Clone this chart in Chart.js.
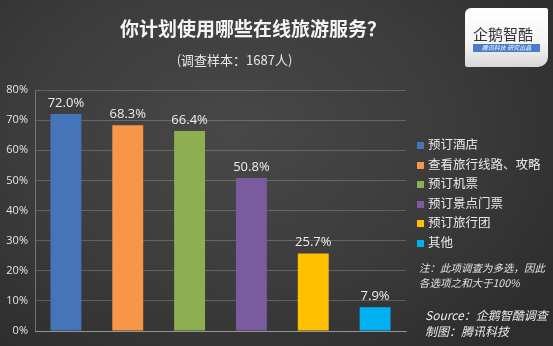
<!DOCTYPE html>
<html>
<head>
<meta charset="utf-8">
<title>在线旅游服务</title>
<script src="https://cdn.jsdelivr.net/npm/chart.js@4.4.0/dist/chart.umd.min.js"></script>
<style>
  html, body { margin: 0; padding: 0; }
  body {
    width: 553px; height: 346px; overflow: hidden; position: relative;
    background: radial-gradient(ellipse 70% 80% at 42% 38%, #484848 0%, #3c3c3c 55%, #2d2d2d 100%);
    font-family: "Noto Sans CJK SC", "Noto Sans", sans-serif;
    color: #fff;
  }
  #chart { position: absolute; left: 0; top: 0; }
  .title {
    position: absolute; left: 120px; top: 14px; width: 266px; text-align: center;
    font-size: 19px; font-weight: bold; color: #f4f4f4; white-space: nowrap;
  }
  .subtitle {
    position: absolute; left: 173px; top: 50px; width: 123px; text-align: center;
    font-size: 13px; color: #e6e6e6; white-space: nowrap;
  }
  .logo {
    position: absolute; left: 465px; top: 8px; width: 83px; height: 59px;
    background: linear-gradient(#ffffff 0%, #f4f4f4 60%, #d8d8d8 100%);
    border-radius: 6px 2px 10px 2px;
  }
  .logo .name {
    position: absolute; left: 8px; top: 17px; font-size: 15px; color: #333;
    letter-spacing: 0px; white-space: nowrap; line-height: 17px;
  }
  .logo .strip {
    position: absolute; left: 8px; top: 36px; width: 67px; height: 8px;
    background: #4a7dc8; color: #fff; font-size: 6px; line-height: 8px;
    text-align: center; white-space: nowrap; font-style: italic;
  }
  #legend { position: absolute; left: 417px; top: 134px; font-size: 12.5px; color: #e8e8e8; }
  #legend div { height: 19.5px; line-height: 19px; white-space: nowrap; }
  #legend span {
    display: inline-block; width: 7px; height: 7px; margin-right: 4px; vertical-align: 0px;
  }
  .note {
    position: absolute; left: 419px; top: 260px; font-size: 10.5px; line-height: 15px;
    font-style: italic; color: #e0e0e0; white-space: nowrap;
  }
  .source {
    position: absolute; left: 425px; top: 307px; font-size: 12px; line-height: 16px;
    font-style: italic; color: #e8e8e8; white-space: nowrap;
  }
</style>
</head>
<body>
<canvas id="chart" width="553" height="346"></canvas>
<div class="title">你计划使用哪些在线旅游服务？</div>
<div class="subtitle">(调查样本：1687人)</div>
<div class="logo">
  <div class="name">企鹅智酷</div>
  <div class="strip">腾讯科技 研究出品</div>
</div>
<div id="legend"></div>
<div class="note">注：此项调查为多选，因此<br>各选项之和大于100%</div>
<div class="source">Source：企鹅智酷调查<br>制图：腾讯科技</div>

<script>
// Survey results (percent of respondents)
const categories = ['预订酒店', '查看旅行线路、攻略', '预订机票', '预订景点门票', '预订旅行团', '其他'];
const shares = [72.0, 68.3, 66.4, 50.8, 25.7, 7.9];
const barColors = ['#4674b8', '#f79646', '#8eaf50', '#7a5c9e', '#ffc000', '#00b0f0'];
const yTicks = [0, 10, 20, 30, 40, 50, 60, 70, 80];

// Legend built from the category list
const legendBox = document.getElementById('legend');
categories.forEach((name, i) => {
    const row = document.createElement('div');
    const sw = document.createElement('span');
    sw.style.background = barColors[i];
    row.appendChild(sw);
    row.appendChild(document.createTextNode(name));
    legendBox.appendChild(row);
});

// Percent labels above each bar
const valueLabels = {
    id: 'valueLabels',
    afterDatasetsDraw(chart) {
        const ctx = chart.ctx;
        const meta = chart.getDatasetMeta(0);
        ctx.save();
        ctx.font = '13px "Open Sans", "Noto Sans", sans-serif';
        ctx.fillStyle = '#ececec';
        ctx.textAlign = 'center';
        ctx.textBaseline = 'middle';
        meta.data.forEach((bar, i) => {
            const v = chart.data.datasets[0].data[i];
            ctx.fillText(v.toFixed(1) + '%', bar.x, bar.y - 11);
        });
        ctx.restore();
    }
};

new Chart(document.getElementById('chart'), {
    type: 'bar',
    data: {
        labels: categories,
        datasets: [{
            data: shares,
            backgroundColor: barColors,
            borderWidth: 0,
            barPercentage: 0.5,
            categoryPercentage: 1.0
        }]
    },
    options: {
        responsive: false,
        animation: false,
        layout: { padding: { left: 0, top: 90, right: 147, bottom: 15 } },
        plugins: {
            legend: { display: false },
            title: { display: false },
            tooltip: { enabled: false }
        },
        scales: {
            x: {
                grid: { display: false, drawTicks: false },
                ticks: { display: false },
                border: { color: 'rgba(255,255,255,0.35)', width: 1 },
                afterFit: scale => { scale.height = 0; }
            },
            y: {
                min: 0,
                max: 80,
                afterBuildTicks: scale => { scale.ticks = yTicks.map(v => ({ value: v })); },
                ticks: {
                    padding: 7,
                    color: '#e4e4e4',
                    font: { size: 11, family: '"Open Sans", "Noto Sans", sans-serif' },
                    callback: v => v + '%'
                },
                grid: { color: 'rgba(255,255,255,0.2)', drawTicks: false },
                border: { color: 'rgba(255,255,255,0.3)', width: 1 },
                afterFit: scale => { scale.width = 35; }
            }
        }
    },
    plugins: [valueLabels]
});
</script>
</body>
</html>
